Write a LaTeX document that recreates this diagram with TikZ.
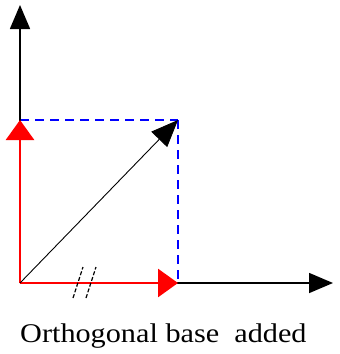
\documentclass[tikz,border=0pt]{standalone}
\usepackage{fontspec}
\setmainfont{Liberation Serif}
\usetikzlibrary{arrows.meta}

\begin{document}
\begin{tikzpicture}[x=1pt, y=-1pt,
    axis/.style={line width=1.6pt, -{Triangle[length=24pt, width=20pt]}},
    basis/.style={red, line width=2.8pt, -{Triangle[length=20pt, width=28pt]}},
    proj/.style={blue, line width=1.3pt, dash pattern=on 9pt off 6pt},
    vec/.style={line width=0.9pt, -{Triangle[length=27pt, width=22pt]}},
    tick/.style={line width=1.2pt, dash pattern=on 4pt off 2pt}]
  \useasboundingbox (0,0) rectangle (340,354);

  % Points
  \coordinate (O) at (20,283);
  \coordinate (ytop) at (20,5);
  \coordinate (xend) at (333,283);
  \coordinate (ey) at (20,120);
  \coordinate (ex) at (178,283);
  \coordinate (v) at (178,120);

  % Projections
  \draw[proj] (ey) -- (v);
  \draw[proj] (v) -- (ex);

  % Axes
  \draw[axis] (O) -- (ytop);
  \draw[axis] (O) -- (xend);

  % Orthogonal base
  \draw[basis] (O) -- (ey);
  \draw[basis] (O) -- (ex);

  % Vector
  \draw[vec] (O) -- (v);

  % Equal-length marks
  \draw[tick] (73,298) -- (83,267);
  \draw[tick] (86,298) -- (96,267);

  % Caption
  \node[font=\fontsize{27}{30}\selectfont, anchor=west, inner sep=0pt] (cap) at (20,336)
    {\scalebox{1.12}[1]{Orthogonal base\ \ added}};
\end{tikzpicture}
\end{document}
